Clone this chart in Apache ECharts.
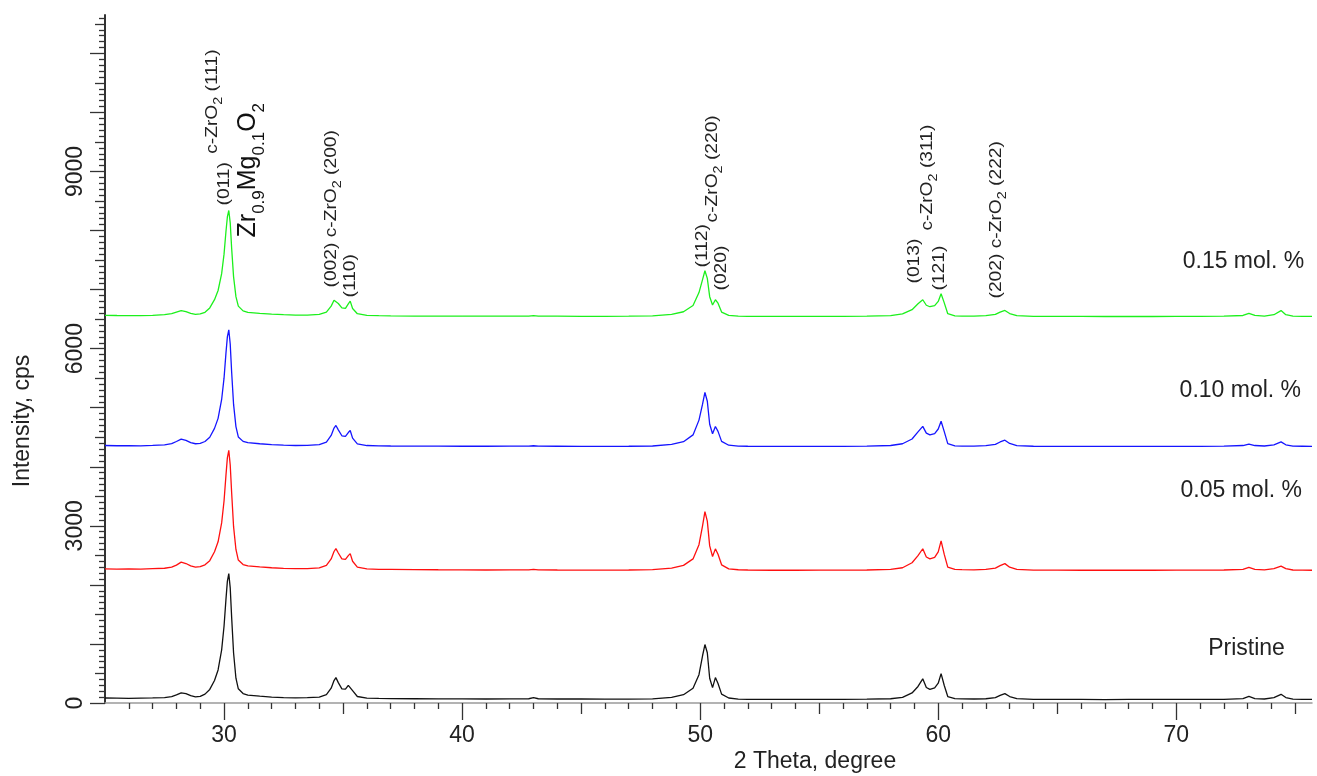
<!DOCTYPE html>
<html><head><meta charset="utf-8">
<script src="https://cdn.jsdelivr.net/npm/echarts@6/dist/echarts.min.js"></script>
<style>html,body{margin:0;padding:0;background:#fff}#c{width:1317px;height:776px}</style>
</head><body><div id="c"></div><script>
// ---------- data ----------
const twoTheta = [
  25.0, 25.5, 26.0, 26.5, 27.0, 27.5, 27.8, 28.0, 28.2, 28.4, 28.6, 28.8, 29.0, 29.2, 29.4,
  29.6, 29.75, 29.9, 30.0, 30.08, 30.14, 30.2, 30.26, 30.32, 30.4, 30.5, 30.6, 30.8, 31.0,
  31.5, 32.0, 32.5, 33.0, 33.5, 34.0, 34.3, 34.5, 34.62, 34.7, 34.8, 34.95, 35.1, 35.22, 35.3, 35.4, 35.6, 36.0,
  36.5, 37, 38, 39, 40, 41, 42, 42.8, 43.0, 43.2, 44, 45, 46, 47, 48, 48.8,
  49.3, 49.7, 49.95, 50.1, 50.2, 50.3, 50.4, 50.52, 50.64, 50.75, 50.9, 51.2, 51.6, 52,
  53, 54, 55, 56, 57, 58, 58.5, 58.9, 59.15, 59.35, 59.5, 59.65, 59.85, 60.0, 60.12, 60.25, 60.4, 60.7, 61, 61.5,
  62, 62.4, 62.6, 62.8, 63.0, 63.3, 64, 65, 66, 67, 68, 69, 70, 71, 72, 72.8, 73.05, 73.3, 73.7, 74.1, 74.4, 74.6, 74.9, 75.3, 75.7
];
const pristine = [
  85, 83, 80, 84, 86, 92, 108, 138, 172, 160, 125, 105, 112, 150, 230,
  380, 560, 900, 1300, 1750, 2060, 2190, 1950, 1450, 850, 420, 240, 160, 135,
  115, 100, 92, 88, 90, 100, 140, 250, 380, 430, 345, 240, 235, 300, 328, 210, 110, 82,
  78, 75, 72, 70, 70, 68, 70, 72, 92, 72, 68, 68, 66, 66, 70, 95,
  140, 250, 480, 800, 990, 850, 420, 260, 430, 330, 150, 85, 66, 62,
  60, 60, 62, 62, 64, 72, 95, 170, 280, 410, 262, 230, 255, 335, 497, 300, 110, 75, 70, 68,
  72, 90, 128, 158, 110, 75, 62, 60, 60, 58, 60, 60, 60, 62, 62, 75, 112, 75, 68, 90, 147, 92, 65, 60, 60
];
const mol005 = [
  2272, 2268, 2270, 2266, 2275, 2282, 2300, 2335, 2385, 2362, 2322, 2300, 2308, 2340, 2410,
  2560, 2730, 3050, 3420, 3850, 4150, 4277, 4030, 3560, 2990, 2600, 2420, 2345, 2322,
  2305, 2290, 2280, 2274, 2276, 2288, 2330, 2440, 2565, 2615, 2540, 2440, 2432, 2495, 2530, 2400, 2300, 2270,
  2264, 2262, 2258, 2256, 2255, 2252, 2255, 2255, 2263, 2255, 2252, 2250, 2250, 2252, 2258, 2285,
  2330, 2440, 2680, 3000, 3240, 3080, 2660, 2480, 2610, 2520, 2340, 2272, 2256, 2252,
  2248, 2248, 2250, 2250, 2252, 2262, 2290, 2375, 2495, 2612, 2472, 2440, 2465, 2560, 2745, 2520, 2300, 2262, 2258, 2255,
  2262, 2285, 2325, 2360, 2300, 2262, 2250, 2250, 2248, 2248, 2250, 2248, 2250, 2250, 2252, 2262, 2295, 2262, 2255, 2275, 2318, 2275, 2252, 2250, 2248
];
const mol010 = [
  4360, 4356, 4358, 4355, 4362, 4372, 4392, 4428, 4468, 4448, 4408, 4390, 4398, 4428, 4500,
  4650, 4820, 5140, 5500, 5920, 6200, 6320, 6080, 5600, 5060, 4680, 4505, 4430, 4408,
  4390, 4375, 4366, 4360, 4362, 4376, 4418, 4530, 4655, 4700, 4625, 4525, 4515, 4580, 4615, 4485, 4388, 4360,
  4355, 4352, 4350, 4350, 4348, 4348, 4350, 4350, 4356, 4350, 4348, 4346, 4346, 4348, 4352, 4378,
  4425, 4540, 4790, 5060, 5258, 5110, 4720, 4560, 4682, 4600, 4430, 4365, 4350, 4348,
  4345, 4345, 4346, 4346, 4350, 4360, 4390, 4470, 4590, 4685, 4570, 4540, 4562, 4640, 4770, 4600, 4392, 4355, 4350, 4350,
  4358, 4380, 4420, 4450, 4395, 4358, 4348, 4346, 4345, 4345, 4346, 4345, 4346, 4346, 4350, 4360, 4385, 4360, 4352, 4372, 4422, 4372, 4350, 4348, 4346
];
const mol015 = [
  6565, 6562, 6560, 6558, 6565, 6575, 6595, 6620, 6645, 6628, 6598, 6582, 6588, 6615, 6690,
  6830, 6985, 7270, 7600, 7980, 8230, 8340, 8130, 7700, 7220, 6880, 6720, 6640, 6615,
  6598, 6585, 6575, 6568, 6568, 6580, 6620, 6720, 6820, 6845, 6765, 6690, 6682, 6760, 6805, 6680, 6592, 6565,
  6560, 6556, 6552, 6552, 6550, 6550, 6552, 6552, 6558, 6552, 6550, 6548, 6548, 6550, 6554, 6580,
  6625, 6730, 6950, 7170, 7320, 7190, 6880, 6740, 6828, 6770, 6620, 6565, 6550, 6548,
  6546, 6546, 6546, 6548, 6550, 6560, 6590, 6660, 6760, 6828, 6735, 6710, 6728, 6800, 6930, 6780, 6592, 6556, 6550, 6550,
  6558, 6580, 6620, 6647, 6595, 6558, 6548, 6546, 6546, 6545, 6546, 6545, 6546, 6546, 6550, 6562, 6598, 6562, 6552, 6575, 6645, 6575, 6552, 6548, 6546
];

// tick labels
const xLabelTicks = [30, 40, 50, 60, 70];
const xMidTicks = [35, 45, 55, 65, 75];
const yLabelTicks = [0, 3000, 6000, 9000];

// series labels (text, anchor in data coords)
const seriesNames = ['0.15 mol. %', '0.10 mol. %', '0.05 mol. %', 'Pristine'];
const seriesNameX = [75.37, 75.24, 75.28, 74.56];
const seriesNameY = [7476, 5293, 3600, 926];

// peak annotations (rotated text; anchor = start of text, data coords)
const peakTexts = [
  '{n|(011)}',
  '{n|c-ZrO}{s|2}{n| (111)}',
  '{b|Zr}{bs|0.9}{b|Mg}{bs|0.1}{b|O}{bs|2}',
  '{n|(002) c-ZrO}{s|2}{n| (200)}',
  '{n|(110)}',
  '{n|(112)}',
  '{n|c-ZrO}{s|2}{n| (220)}',
  '{n|(020)}',
  '{n|(013)}',
  '{n|c-ZrO}{s|2}{n| (311)}',
  '{n|(121)}',
  '{n|(202) c-ZrO}{s|2}{n| (222)}'
];
const peakTextX = [30.11, 29.62, 31.17, 34.62, 35.41, 50.18, 50.62, 51.0, 59.08, 59.65, 60.16, 62.55];
const peakTextY = [8424, 9300, 7883, 7036, 6867, 7375, 8137, 6985, 7104, 8001, 6985, 6850];
const peakTextBig = [false, false, true, false, false, false, false, false, false, false, false, false];

// ---------- build ----------
const FONT = "'Liberation Sans', Arial, sans-serif";
const X_MIN = 25, X_MAX = 75.7, Y_MIN = 0, Y_MAX = 11650;

const xMinorTicks = [];
for (let v = 26; v <= 75; v++) if (v % 5 !== 0) xMinorTicks.push(v);
const yMajorTicks = [], yMidTicks = [], yMinorTicks = [];
for (let v = 0; v <= 11600; v += 100) {
  if (v % 1000 === 0) yMajorTicks.push(v);
  else if (v % 500 === 0) yMidTicks.push(v);
  else yMinorTicks.push(v);
}

const pairs = arr => twoTheta.map((x, i) => [x, arr[i]]);
const chart = echarts.init(document.getElementById('c'), null, {renderer: 'canvas'});

function xAx(ticks, len, withLabel, withLine) {
  return {
    type: 'value', min: X_MIN, max: X_MAX, gridIndex: 0, position: 'bottom',
    axisLine: {show: withLine, onZero: false, lineStyle: {color: '#9a9a9a', width: 1.5}},
    axisTick: {show: true, inside: false, length: len, customValues: ticks, lineStyle: {color: '#333', width: 1.3}},
    axisLabel: {show: withLabel, customValues: withLabel ? xLabelTicks : undefined, formatter: v => String(v),
      fontSize: 23, fontFamily: FONT, color: '#222', margin: 21},
    splitLine: {show: false}
  };
}
function yAx(ticks, len, withLabel, withLine) {
  return {
    type: 'value', min: Y_MIN, max: Y_MAX, gridIndex: 0, position: 'left',
    axisLine: {show: withLine, onZero: false, lineStyle: {color: '#333', width: 2}},
    axisTick: {show: true, inside: false, length: len, customValues: ticks, lineStyle: {color: '#333', width: 1.3}},
    axisLabel: {show: withLabel, customValues: withLabel ? yLabelTicks : undefined, formatter: v => String(v),
      rotate: 90, fontSize: 23, fontFamily: FONT, color: '#222', margin: 18},
    splitLine: {show: false}
  };
}

const lineSeries = (name, arr, color) => ({
  name, type: 'line', data: pairs(arr), xAxisIndex: 0, yAxisIndex: 0,
  symbol: 'none', showSymbol: false, smooth: false, z: 3,
  lineStyle: {color, width: 1.3}
});

chart.setOption({
  animation: false,
  backgroundColor: '#fff',
  grid: {left: 105, right: 5, top: 15, bottom: 73, containLabel: false},
  xAxis: [xAx(xLabelTicks, 17, true, true), xAx(xMidTicks, 11, false, false), xAx(xMinorTicks, 6, false, false)],
  yAxis: [yAx(yMajorTicks, 15, true, true), yAx(yMidTicks, 10, false, false), yAx(yMinorTicks, 6, false, false)],
  series: [
    lineSeries('Pristine', pristine, '#111111'),
    lineSeries('0.05 mol. %', mol005, '#ff1010'),
    lineSeries('0.10 mol. %', mol010, '#1515ff'),
    lineSeries('0.15 mol. %', mol015, '#1cf01c')
  ]
});

const toPx = (x, y) => chart.convertToPixel({xAxisIndex: 0, yAxisIndex: 0}, [x, y]);
const graphics = [];
const rich = {
  n: {fontSize: 16, fontFamily: FONT, fill: '#222', verticalAlign: 'bottom', padding: [0, 0, 4, 0]},
  s: {fontSize: 12, fontFamily: FONT, fill: '#222', verticalAlign: 'bottom'},
  b: {fontSize: 25, fontFamily: FONT, fill: '#111', verticalAlign: 'bottom', padding: [0, 0, 7, 0]},
  bs: {fontSize: 17, fontFamily: FONT, fill: '#111', verticalAlign: 'bottom'}
};
peakTexts.forEach((t, i) => {
  const p = toPx(peakTextX[i], peakTextY[i]);
  graphics.push({
    type: 'text', x: p[0], y: p[1], rotation: Math.PI / 2,
    scaleX: peakTextBig[i] ? 1.0 : 1.2, scaleY: 1,
    style: {text: t, rich, align: 'left', verticalAlign: 'middle', fontFamily: FONT, fill: '#222'},
    z: 10
  });
});
seriesNames.forEach((t, i) => {
  const p = toPx(seriesNameX[i], seriesNameY[i]);
  graphics.push({
    type: 'text', x: p[0], y: p[1],
    style: {text: t, align: 'right', verticalAlign: 'middle', fontSize: 23, fontFamily: FONT, fill: '#222'},
    z: 10
  });
});
// axis titles
graphics.push({
  type: 'text', x: 23, y: 421, rotation: Math.PI / 2,
  style: {text: 'Intensity, cps', align: 'center', verticalAlign: 'middle', fontSize: 23, fontFamily: FONT, fill: '#222'}
});
graphics.push({
  type: 'text', x: 815, y: 762,
  style: {text: '2 Theta, degree', align: 'center', verticalAlign: 'middle', fontSize: 23, fontFamily: FONT, fill: '#222'}
});
chart.setOption({graphic: graphics});
</script></body></html>
